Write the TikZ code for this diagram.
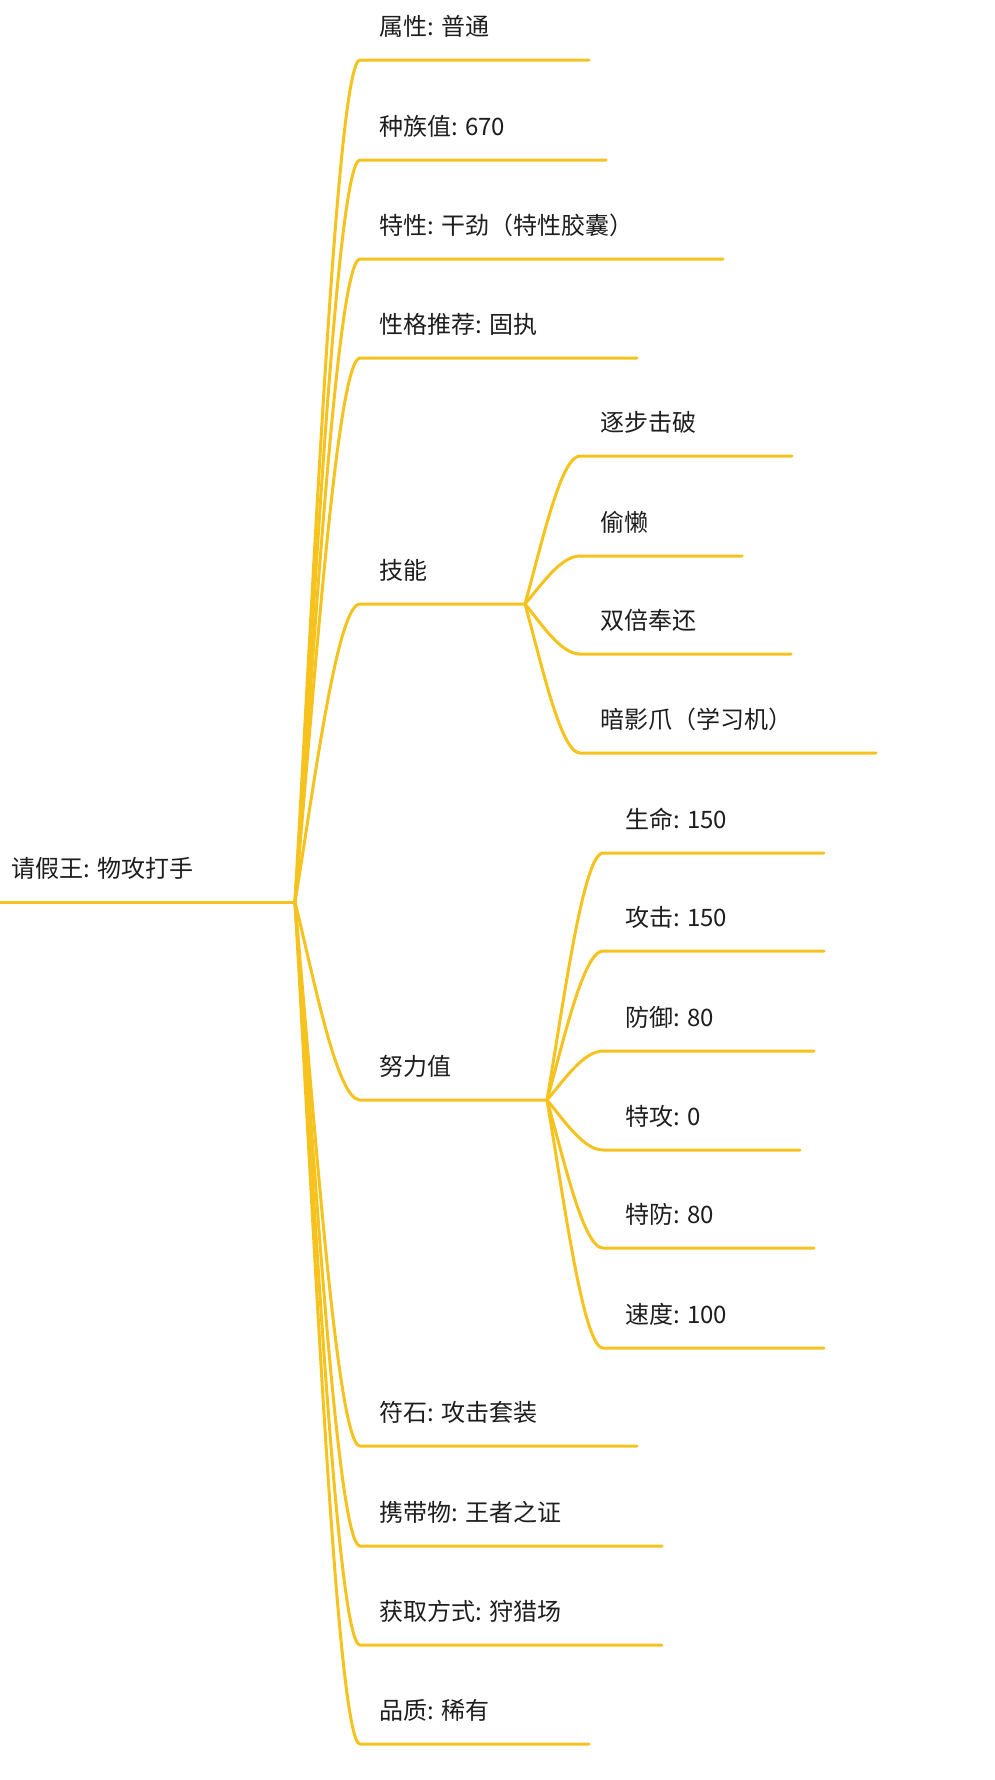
\documentclass[tikz,border=0pt]{standalone}
\usepackage{fontspec}
\setmainfont{Noto Sans CJK SC}
\usetikzlibrary{calc}
\definecolor{mmyellow}{RGB}{245,194,30}
\definecolor{mmtext}{RGB}{30,30,30}
\tikzset{
  branch/.style={draw=mmyellow, line width=3pt, line cap=round},
  lbl/.style={anchor=west, inner sep=0pt, text=mmtext, font=\fontsize{24}{28}\selectfont},
}
\newcommand\mmlink[3]{\draw[branch] let \p1=(#1), \p2=(#2) in (\p1) .. controls ({\x1+0.3*(\x2-\x1)},{\y1+0.4*(\y2-\y1)}) and ({\x2-0.35*(\x2-\x1)},\y2) .. (\p2) -- (#3);}
\begin{document}
\begin{tikzpicture}[x=1pt,y=-1pt]
\fill[white] (0,0) rectangle (995,1780);
\useasboundingbox (0,0) rectangle (995,1780);
% root
\coordinate (rootL) at (0,902);
\coordinate (hub) at (295,902);
\node[lbl] (root) at (11,868) {请假王: 物攻打手};
\draw[branch, line cap=butt] (rootL) -- (hub);
% main branches
\coordinate (hS) at (525,604);
\coordinate (hE) at (547,1100);
\foreach \k/\y/\e/\t in {
  a/60/589/{属性: 普通},
  b/160/606/{种族值: 670},
  c/259/723/{特性: 干劲（特性胶囊）},
  d/358/637/{性格推荐: 固执},
  f/1446/637/{符石: 攻击套装},
  g/1546/662/{携带物: 王者之证},
  h/1645/662/{获取方式: 狩猎场},
  i/1744/589/{品质: 稀有}}{
  \coordinate (\k s) at (360,\y);
  \coordinate (\k e) at (\e,\y);
  \node[lbl] (\k t) at (379,\y-34) {\t};
  \mmlink{hub}{\k s}{\k e}
}
% skills
\coordinate (ss) at (360,604);
\node[lbl] (skt) at (379,570) {技能};
\mmlink{hub}{ss}{hS}
\foreach \k/\y/\e/\t in {
  s1/456/792/{逐步击破},
  s2/556/742/{偷懒},
  s3/654/791/{双倍奉还},
  s4/753/876/{暗影爪（学习机）}}{
  \coordinate (\k s) at (580,\y);
  \coordinate (\k e) at (\e,\y);
  \node[lbl] (\k t) at (600,\y-34) {\t};
  \mmlink{hS}{\k s}{\k e}
}
% EV
\coordinate (es) at (360,1100);
\node[lbl] (evt) at (379,1066) {努力值};
\mmlink{hub}{es}{hE}
\foreach \k/\y/\e/\t in {
  e1/853/824/{生命: 150},
  e2/951/824/{攻击: 150},
  e3/1051/814/{防御: 80},
  e4/1150/800/{特攻: 0},
  e5/1248/814/{特防: 80},
  e6/1348/824/{速度: 100}}{
  \coordinate (\k s) at (603,\y);
  \coordinate (\k e) at (\e,\y);
  \node[lbl] (\k t) at (625,\y-34) {\t};
  \mmlink{hE}{\k s}{\k e}
}
\end{tikzpicture}
\end{document}
